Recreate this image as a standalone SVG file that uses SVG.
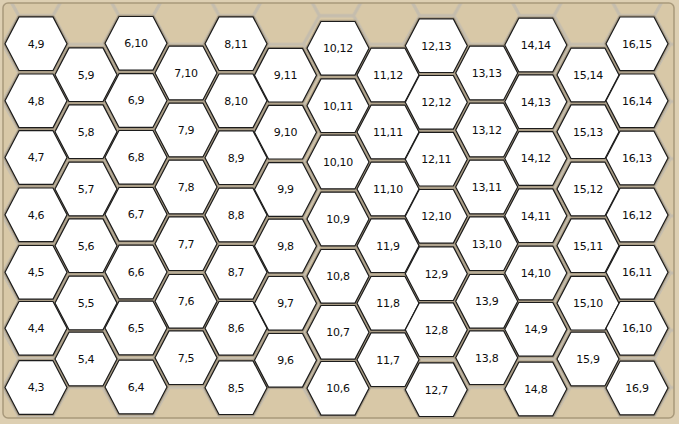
<svg xmlns="http://www.w3.org/2000/svg" xmlns:xlink="http://www.w3.org/1999/xlink" width="679" height="424" viewBox="0 0 679 424">
<style>
.cell{fill:#fff;stroke:#1c1c1c;stroke-width:1.2;stroke-linejoin:round}
.halo{fill:#fff;stroke:#a89b84;stroke-width:3.4;stroke-linejoin:round}
.g{fill:none;stroke:#c5bdad;stroke-width:3;stroke-linejoin:round}
text{font-family:"DejaVu Sans","Liberation Sans",sans-serif;font-size:11px;letter-spacing:-0.3px;fill:#0d0d0d;text-anchor:middle}
</style>
<defs>
<polygon id="hx" points="-31,0 -17,-26.8 17,-26.8 31,0 17,26.8 -17,26.8"/>
<polygon id="gx" points="-33,0 -17,-28.6 17,-28.6 33,0 17,28.6 -17,28.6"/>
<pattern id="grid" patternUnits="userSpaceOnUse" x="35.9" y="44.3" width="100.2" height="57.2">
<use xlink:href="#gx" class="g" x="0" y="0"/>
<use xlink:href="#gx" class="g" x="100.2" y="0"/>
<use xlink:href="#gx" class="g" x="0" y="57.2"/>
<use xlink:href="#gx" class="g" x="100.2" y="57.2"/>
<use xlink:href="#gx" class="g" x="50.1" y="28.6"/>
</pattern>
</defs>
<rect width="679" height="424" fill="#ddcfb2"/>
<rect x="3" y="3" width="671" height="415" rx="5" fill="#d8c8a7"/>
<rect x="3" y="3" width="671" height="415" rx="5" fill="url(#grid)"/>
<rect x="3" y="3" width="671" height="415" rx="5" fill="none" stroke="#a8997b" stroke-width="1.5"/>
<g id="halos">
<use xlink:href="#hx" class="halo" x="36" y="43.7"/><use xlink:href="#hx" class="halo" x="36" y="100.8"/><use xlink:href="#hx" class="halo" x="36" y="157.5"/><use xlink:href="#hx" class="halo" x="36" y="214.8"/><use xlink:href="#hx" class="halo" x="36" y="272.3"/><use xlink:href="#hx" class="halo" x="36" y="328.3"/><use xlink:href="#hx" class="halo" x="36" y="387.5"/>
<use xlink:href="#hx" class="halo" x="86" y="74.7"/><use xlink:href="#hx" class="halo" x="86" y="131.7"/><use xlink:href="#hx" class="halo" x="86" y="189"/><use xlink:href="#hx" class="halo" x="86" y="245.7"/><use xlink:href="#hx" class="halo" x="86" y="303"/><use xlink:href="#hx" class="halo" x="86" y="359"/>
<use xlink:href="#hx" class="halo" x="136" y="43.3"/><use xlink:href="#hx" class="halo" x="136" y="100.5"/><use xlink:href="#hx" class="halo" x="136" y="157.3"/><use xlink:href="#hx" class="halo" x="136" y="214.3"/><use xlink:href="#hx" class="halo" x="136" y="272"/><use xlink:href="#hx" class="halo" x="136" y="328"/><use xlink:href="#hx" class="halo" x="136" y="387"/>
<use xlink:href="#hx" class="halo" x="186" y="73"/><use xlink:href="#hx" class="halo" x="186" y="130"/><use xlink:href="#hx" class="halo" x="186" y="187"/><use xlink:href="#hx" class="halo" x="186" y="243.7"/><use xlink:href="#hx" class="halo" x="186" y="301.3"/><use xlink:href="#hx" class="halo" x="186" y="357.7"/>
<use xlink:href="#hx" class="halo" x="236" y="43.7"/><use xlink:href="#hx" class="halo" x="236" y="100.8"/><use xlink:href="#hx" class="halo" x="236" y="157.7"/><use xlink:href="#hx" class="halo" x="236" y="215"/><use xlink:href="#hx" class="halo" x="236" y="272.3"/><use xlink:href="#hx" class="halo" x="236" y="328.3"/><use xlink:href="#hx" class="halo" x="236" y="387.7"/>
<use xlink:href="#hx" class="halo" x="285.5" y="75.2"/><use xlink:href="#hx" class="halo" x="285.5" y="132.2"/><use xlink:href="#hx" class="halo" x="285.5" y="189.5"/><use xlink:href="#hx" class="halo" x="285.5" y="246"/><use xlink:href="#hx" class="halo" x="285.5" y="303.3"/><use xlink:href="#hx" class="halo" x="285.5" y="360.3"/>
<use xlink:href="#hx" class="halo" x="338" y="48.3"/><use xlink:href="#hx" class="halo" x="338" y="105.7"/><use xlink:href="#hx" class="halo" x="338" y="162"/><use xlink:href="#hx" class="halo" x="338" y="219"/><use xlink:href="#hx" class="halo" x="338" y="276.3"/><use xlink:href="#hx" class="halo" x="338" y="332.3"/><use xlink:href="#hx" class="halo" x="338" y="388.3"/>
<use xlink:href="#hx" class="halo" x="388" y="75"/><use xlink:href="#hx" class="halo" x="388" y="132"/><use xlink:href="#hx" class="halo" x="388" y="189"/><use xlink:href="#hx" class="halo" x="388" y="245.7"/><use xlink:href="#hx" class="halo" x="388" y="303.3"/><use xlink:href="#hx" class="halo" x="388" y="359.7"/>
<use xlink:href="#hx" class="halo" x="436.3" y="45.7"/><use xlink:href="#hx" class="halo" x="436.3" y="102.3"/><use xlink:href="#hx" class="halo" x="436.3" y="159.2"/><use xlink:href="#hx" class="halo" x="436.3" y="216.3"/><use xlink:href="#hx" class="halo" x="436.3" y="273.7"/><use xlink:href="#hx" class="halo" x="436.3" y="329.7"/><use xlink:href="#hx" class="halo" x="436.3" y="389.7"/>
<use xlink:href="#hx" class="halo" x="486.7" y="73"/><use xlink:href="#hx" class="halo" x="486.7" y="130"/><use xlink:href="#hx" class="halo" x="486.7" y="187"/><use xlink:href="#hx" class="halo" x="486.7" y="243.7"/><use xlink:href="#hx" class="halo" x="486.7" y="301.3"/><use xlink:href="#hx" class="halo" x="486.7" y="357.7"/>
<use xlink:href="#hx" class="halo" x="535.8" y="45"/><use xlink:href="#hx" class="halo" x="535.8" y="101.7"/><use xlink:href="#hx" class="halo" x="535.8" y="158.5"/><use xlink:href="#hx" class="halo" x="535.8" y="215.7"/><use xlink:href="#hx" class="halo" x="535.8" y="273"/><use xlink:href="#hx" class="halo" x="535.8" y="329.3"/><use xlink:href="#hx" class="halo" x="535.8" y="389"/>
<use xlink:href="#hx" class="halo" x="588" y="75"/><use xlink:href="#hx" class="halo" x="588" y="131.7"/><use xlink:href="#hx" class="halo" x="588" y="189"/><use xlink:href="#hx" class="halo" x="588" y="245.7"/><use xlink:href="#hx" class="halo" x="588" y="303.2"/><use xlink:href="#hx" class="halo" x="588" y="359"/>
<use xlink:href="#hx" class="halo" x="637" y="43.8"/><use xlink:href="#hx" class="halo" x="637" y="100.8"/><use xlink:href="#hx" class="halo" x="637" y="158"/><use xlink:href="#hx" class="halo" x="637" y="215"/><use xlink:href="#hx" class="halo" x="637" y="272.3"/><use xlink:href="#hx" class="halo" x="637" y="328.3"/><use xlink:href="#hx" class="halo" x="637" y="388"/>
</g>
<g id="connectors"/>
<g id="nodes">
<g id="h4_9" transform="translate(36,43.7)"><use xlink:href="#hx" class="cell"/><text y="3.9">4,9</text></g>
<g id="h4_8" transform="translate(36,100.8)"><use xlink:href="#hx" class="cell"/><text y="3.9">4,8</text></g>
<g id="h4_7" transform="translate(36,157.5)"><use xlink:href="#hx" class="cell"/><text y="3.9">4,7</text></g>
<g id="h4_6" transform="translate(36,214.8)"><use xlink:href="#hx" class="cell"/><text y="3.9">4,6</text></g>
<g id="h4_5" transform="translate(36,272.3)"><use xlink:href="#hx" class="cell"/><text y="3.9">4,5</text></g>
<g id="h4_4" transform="translate(36,328.3)"><use xlink:href="#hx" class="cell"/><text y="3.9">4,4</text></g>
<g id="h4_3" transform="translate(36,387.5)"><use xlink:href="#hx" class="cell"/><text y="3.9">4,3</text></g>
<g id="h5_9" transform="translate(86,74.7)"><use xlink:href="#hx" class="cell"/><text y="3.9">5,9</text></g>
<g id="h5_8" transform="translate(86,131.7)"><use xlink:href="#hx" class="cell"/><text y="3.9">5,8</text></g>
<g id="h5_7" transform="translate(86,189)"><use xlink:href="#hx" class="cell"/><text y="3.9">5,7</text></g>
<g id="h5_6" transform="translate(86,245.7)"><use xlink:href="#hx" class="cell"/><text y="3.9">5,6</text></g>
<g id="h5_5" transform="translate(86,303)"><use xlink:href="#hx" class="cell"/><text y="3.9">5,5</text></g>
<g id="h5_4" transform="translate(86,359)"><use xlink:href="#hx" class="cell"/><text y="3.9">5,4</text></g>
<g id="h6_10" transform="translate(136,43.3)"><use xlink:href="#hx" class="cell"/><text y="3.9">6,10</text></g>
<g id="h6_9" transform="translate(136,100.5)"><use xlink:href="#hx" class="cell"/><text y="3.9">6,9</text></g>
<g id="h6_8" transform="translate(136,157.3)"><use xlink:href="#hx" class="cell"/><text y="3.9">6,8</text></g>
<g id="h6_7" transform="translate(136,214.3)"><use xlink:href="#hx" class="cell"/><text y="3.9">6,7</text></g>
<g id="h6_6" transform="translate(136,272)"><use xlink:href="#hx" class="cell"/><text y="3.9">6,6</text></g>
<g id="h6_5" transform="translate(136,328)"><use xlink:href="#hx" class="cell"/><text y="3.9">6,5</text></g>
<g id="h6_4" transform="translate(136,387)"><use xlink:href="#hx" class="cell"/><text y="3.9">6,4</text></g>
<g id="h7_10" transform="translate(186,73)"><use xlink:href="#hx" class="cell"/><text y="3.9">7,10</text></g>
<g id="h7_9" transform="translate(186,130)"><use xlink:href="#hx" class="cell"/><text y="3.9">7,9</text></g>
<g id="h7_8" transform="translate(186,187)"><use xlink:href="#hx" class="cell"/><text y="3.9">7,8</text></g>
<g id="h7_7" transform="translate(186,243.7)"><use xlink:href="#hx" class="cell"/><text y="3.9">7,7</text></g>
<g id="h7_6" transform="translate(186,301.3)"><use xlink:href="#hx" class="cell"/><text y="3.9">7,6</text></g>
<g id="h7_5" transform="translate(186,357.7)"><use xlink:href="#hx" class="cell"/><text y="3.9">7,5</text></g>
<g id="h8_11" transform="translate(236,43.7)"><use xlink:href="#hx" class="cell"/><text y="3.9">8,11</text></g>
<g id="h8_10" transform="translate(236,100.8)"><use xlink:href="#hx" class="cell"/><text y="3.9">8,10</text></g>
<g id="h8_9" transform="translate(236,157.7)"><use xlink:href="#hx" class="cell"/><text y="3.9">8,9</text></g>
<g id="h8_8" transform="translate(236,215)"><use xlink:href="#hx" class="cell"/><text y="3.9">8,8</text></g>
<g id="h8_7" transform="translate(236,272.3)"><use xlink:href="#hx" class="cell"/><text y="3.9">8,7</text></g>
<g id="h8_6" transform="translate(236,328.3)"><use xlink:href="#hx" class="cell"/><text y="3.9">8,6</text></g>
<g id="h8_5" transform="translate(236,387.7)"><use xlink:href="#hx" class="cell"/><text y="3.9">8,5</text></g>
<g id="h9_11" transform="translate(285.5,75.2)"><use xlink:href="#hx" class="cell"/><text y="3.9">9,11</text></g>
<g id="h9_10" transform="translate(285.5,132.2)"><use xlink:href="#hx" class="cell"/><text y="3.9">9,10</text></g>
<g id="h9_9" transform="translate(285.5,189.5)"><use xlink:href="#hx" class="cell"/><text y="3.9">9,9</text></g>
<g id="h9_8" transform="translate(285.5,246)"><use xlink:href="#hx" class="cell"/><text y="3.9">9,8</text></g>
<g id="h9_7" transform="translate(285.5,303.3)"><use xlink:href="#hx" class="cell"/><text y="3.9">9,7</text></g>
<g id="h9_6" transform="translate(285.5,360.3)"><use xlink:href="#hx" class="cell"/><text y="3.9">9,6</text></g>
<g id="h10_12" transform="translate(338,48.3)"><use xlink:href="#hx" class="cell"/><text y="3.9">10,12</text></g>
<g id="h10_11" transform="translate(338,105.7)"><use xlink:href="#hx" class="cell"/><text y="3.9">10,11</text></g>
<g id="h10_10" transform="translate(338,162)"><use xlink:href="#hx" class="cell"/><text y="3.9">10,10</text></g>
<g id="h10_9" transform="translate(338,219)"><use xlink:href="#hx" class="cell"/><text y="3.9">10,9</text></g>
<g id="h10_8" transform="translate(338,276.3)"><use xlink:href="#hx" class="cell"/><text y="3.9">10,8</text></g>
<g id="h10_7" transform="translate(338,332.3)"><use xlink:href="#hx" class="cell"/><text y="3.9">10,7</text></g>
<g id="h10_6" transform="translate(338,388.3)"><use xlink:href="#hx" class="cell"/><text y="3.9">10,6</text></g>
<g id="h11_12" transform="translate(388,75)"><use xlink:href="#hx" class="cell"/><text y="3.9">11,12</text></g>
<g id="h11_11" transform="translate(388,132)"><use xlink:href="#hx" class="cell"/><text y="3.9">11,11</text></g>
<g id="h11_10" transform="translate(388,189)"><use xlink:href="#hx" class="cell"/><text y="3.9">11,10</text></g>
<g id="h11_9" transform="translate(388,245.7)"><use xlink:href="#hx" class="cell"/><text y="3.9">11,9</text></g>
<g id="h11_8" transform="translate(388,303.3)"><use xlink:href="#hx" class="cell"/><text y="3.9">11,8</text></g>
<g id="h11_7" transform="translate(388,359.7)"><use xlink:href="#hx" class="cell"/><text y="3.9">11,7</text></g>
<g id="h12_13" transform="translate(436.3,45.7)"><use xlink:href="#hx" class="cell"/><text y="3.9">12,13</text></g>
<g id="h12_12" transform="translate(436.3,102.3)"><use xlink:href="#hx" class="cell"/><text y="3.9">12,12</text></g>
<g id="h12_11" transform="translate(436.3,159.2)"><use xlink:href="#hx" class="cell"/><text y="3.9">12,11</text></g>
<g id="h12_10" transform="translate(436.3,216.3)"><use xlink:href="#hx" class="cell"/><text y="3.9">12,10</text></g>
<g id="h12_9" transform="translate(436.3,273.7)"><use xlink:href="#hx" class="cell"/><text y="3.9">12,9</text></g>
<g id="h12_8" transform="translate(436.3,329.7)"><use xlink:href="#hx" class="cell"/><text y="3.9">12,8</text></g>
<g id="h12_7" transform="translate(436.3,389.7)"><use xlink:href="#hx" class="cell"/><text y="3.9">12,7</text></g>
<g id="h13_13" transform="translate(486.7,73)"><use xlink:href="#hx" class="cell"/><text y="3.9">13,13</text></g>
<g id="h13_12" transform="translate(486.7,130)"><use xlink:href="#hx" class="cell"/><text y="3.9">13,12</text></g>
<g id="h13_11" transform="translate(486.7,187)"><use xlink:href="#hx" class="cell"/><text y="3.9">13,11</text></g>
<g id="h13_10" transform="translate(486.7,243.7)"><use xlink:href="#hx" class="cell"/><text y="3.9">13,10</text></g>
<g id="h13_9" transform="translate(486.7,301.3)"><use xlink:href="#hx" class="cell"/><text y="3.9">13,9</text></g>
<g id="h13_8" transform="translate(486.7,357.7)"><use xlink:href="#hx" class="cell"/><text y="3.9">13,8</text></g>
<g id="h14_14" transform="translate(535.8,45)"><use xlink:href="#hx" class="cell"/><text y="3.9">14,14</text></g>
<g id="h14_13" transform="translate(535.8,101.7)"><use xlink:href="#hx" class="cell"/><text y="3.9">14,13</text></g>
<g id="h14_12" transform="translate(535.8,158.5)"><use xlink:href="#hx" class="cell"/><text y="3.9">14,12</text></g>
<g id="h14_11" transform="translate(535.8,215.7)"><use xlink:href="#hx" class="cell"/><text y="3.9">14,11</text></g>
<g id="h14_10" transform="translate(535.8,273)"><use xlink:href="#hx" class="cell"/><text y="3.9">14,10</text></g>
<g id="h14_9" transform="translate(535.8,329.3)"><use xlink:href="#hx" class="cell"/><text y="3.9">14,9</text></g>
<g id="h14_8" transform="translate(535.8,389)"><use xlink:href="#hx" class="cell"/><text y="3.9">14,8</text></g>
<g id="h15_14" transform="translate(588,75)"><use xlink:href="#hx" class="cell"/><text y="3.9">15,14</text></g>
<g id="h15_13" transform="translate(588,131.7)"><use xlink:href="#hx" class="cell"/><text y="3.9">15,13</text></g>
<g id="h15_12" transform="translate(588,189)"><use xlink:href="#hx" class="cell"/><text y="3.9">15,12</text></g>
<g id="h15_11" transform="translate(588,245.7)"><use xlink:href="#hx" class="cell"/><text y="3.9">15,11</text></g>
<g id="h15_10" transform="translate(588,303.2)"><use xlink:href="#hx" class="cell"/><text y="3.9">15,10</text></g>
<g id="h15_9" transform="translate(588,359)"><use xlink:href="#hx" class="cell"/><text y="3.9">15,9</text></g>
<g id="h16_15" transform="translate(637,43.8)"><use xlink:href="#hx" class="cell"/><text y="3.9">16,15</text></g>
<g id="h16_14" transform="translate(637,100.8)"><use xlink:href="#hx" class="cell"/><text y="3.9">16,14</text></g>
<g id="h16_13" transform="translate(637,158)"><use xlink:href="#hx" class="cell"/><text y="3.9">16,13</text></g>
<g id="h16_12" transform="translate(637,215)"><use xlink:href="#hx" class="cell"/><text y="3.9">16,12</text></g>
<g id="h16_11" transform="translate(637,272.3)"><use xlink:href="#hx" class="cell"/><text y="3.9">16,11</text></g>
<g id="h16_10" transform="translate(637,328.3)"><use xlink:href="#hx" class="cell"/><text y="3.9">16,10</text></g>
<g id="h16_9" transform="translate(637,388)"><use xlink:href="#hx" class="cell"/><text y="3.9">16,9</text></g>
</g>
</svg>
